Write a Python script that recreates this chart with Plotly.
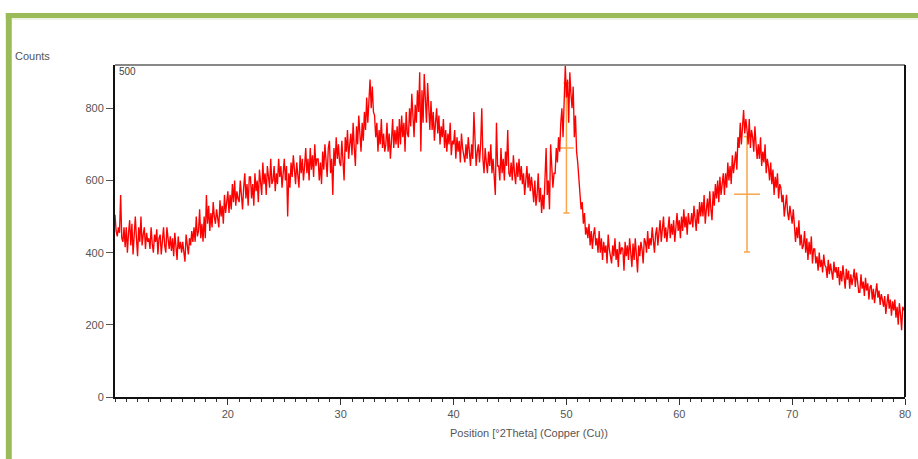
import plotly.graph_objects as go

# Diffraction scan: 2theta from 10 to 80 deg, step 0.1
two_theta_start = 10.0
two_theta_step = 0.1
counts = [
    505,460,445,470,455,560,440,430,470,415,
    470,400,455,490,420,480,395,450,500,440,
    390,470,430,500,420,450,470,410,455,430,
    440,410,470,425,400,450,430,465,395,440,
    450,395,440,470,420,400,470,430,410,445,
    405,440,390,455,420,380,445,410,430,400,
    430,400,375,450,410,395,440,420,460,430,
    470,430,500,445,460,520,440,480,430,500,
    440,560,480,530,460,510,470,540,500,480,
    520,490,470,545,500,530,480,560,510,540,
    570,510,560,520,590,540,600,530,570,550,
    540,600,560,520,580,620,550,590,530,610,
    610,550,590,530,620,570,600,540,630,580,
    560,650,590,620,560,640,600,580,660,590,
    600,640,570,620,590,660,610,640,580,630,
    660,600,640,500,620,580,650,610,670,630,
    590,650,610,580,670,620,660,600,640,690,
    620,660,600,690,630,670,610,700,640,660,
    660,600,650,590,680,630,700,650,610,690,
    710,620,660,560,690,640,720,660,700,650,
    640,710,650,600,720,680,740,660,700,730,
    670,760,690,640,750,700,780,720,680,760,
    710,790,740,830,760,820,880,800,860,790,
    780,720,760,680,740,700,770,690,730,680,
    700,760,680,730,660,710,770,690,740,700,
    750,690,770,700,780,720,760,680,790,730,
    720,800,750,840,770,720,810,760,850,790,
    900,680,850,760,895,830,760,870,800,740,
    820,740,790,710,760,800,730,780,700,750,
    720,770,690,740,680,730,700,760,670,710,
    700,740,660,720,680,710,650,730,690,670,
    650,700,660,720,680,640,700,660,790,700,
    640,680,700,650,700,800,660,620,690,650,
    620,680,640,700,620,660,600,560,760,640,
    640,600,690,620,660,600,680,640,740,620,
    610,650,600,670,620,590,650,610,660,600,
    640,590,620,560,600,640,580,620,570,610,
    580,540,600,530,560,620,540,580,510,560,
    520,640,690,560,600,520,700,640,580,620,
    620,690,650,720,680,760,800,720,860,920,
    830,880,760,900,840,800,860,720,780,680,
    650,600,560,520,540,480,510,450,470,440,
    480,420,460,410,450,470,420,440,400,460,
    400,440,380,430,400,420,370,450,410,390,
    370,420,390,440,380,410,360,430,395,415,
    410,350,430,390,420,380,440,400,360,425,
    380,440,400,345,420,390,430,410,370,440,
    430,400,460,410,440,420,470,430,400,450,
    470,420,450,490,430,460,500,440,470,430,
    460,500,440,480,450,490,430,470,510,460,
    490,440,500,460,520,470,500,450,510,480,
    480,510,470,530,490,460,520,480,540,500,
    540,500,560,480,520,550,500,570,520,490,
    570,530,590,550,600,540,610,560,590,620,
    560,620,580,650,600,640,590,670,620,660,
    680,630,720,690,760,700,750,795,730,770,
    740,700,770,690,740,720,680,750,700,660,
    700,660,720,640,680,650,700,620,660,640,
    600,650,590,630,560,610,580,620,550,590,
    580,540,560,500,530,560,510,490,530,500,
    480,520,460,430,470,440,490,420,450,410,
    420,460,400,440,380,430,395,445,370,410,
    410,370,390,350,400,360,380,345,395,365,
    360,330,380,340,370,350,325,375,345,360,
    330,360,310,350,320,365,335,300,355,325,
    350,300,340,310,330,355,305,345,320,290,
    290,340,300,320,280,330,295,315,270,305,
    310,270,300,260,290,315,275,295,255,285,
    270,250,280,230,260,285,245,270,225,265,
    240,270,220,250,200,260,230,185,250,240,
    250,
]
two_theta = [round(two_theta_start + i * two_theta_step, 1) for i in range(len(counts))]

# Peak markers (position, height, +/- spread)
peak_pos = [50.0, 66.0]
peak_height = [690, 562]
peak_err_y = [180, 160]
peak_err_x = [0.65, 1.15]

x_ticks = [20, 30, 40, 50, 60, 70, 80]
y_ticks = [0, 200, 400, 600, 800]

fig = go.Figure()
fig.add_trace(go.Scatter(
    x=peak_pos, y=peak_height, mode="markers",
    marker=dict(size=1, color="rgba(0,0,0,0)"),
    error_y=dict(type="data", array=peak_err_y, color="#F7A54A", thickness=1.5, width=3),
    error_x=dict(type="data", array=peak_err_x, color="#F7A54A", thickness=1.5, width=0),
    hoverinfo="skip", showlegend=False,
))
fig.add_trace(go.Scatter(
    x=two_theta, y=counts, mode="lines",
    line=dict(color="#FF0000", width=1.35), showlegend=False,
))

L, R, T, B = 115, 7, 65, 62
W, H = 918, 459
pw, ph = W - L - R, H - T - B

def px(x):
    return (x - L) / pw

def py(y):
    return (H - B - y) / ph

green = "#9BBB59"
shapes = [
    dict(type="rect", xref="paper", yref="paper", x0=px(5), x1=px(11), y0=py(13), y1=py(459),
         fillcolor=green, line=dict(width=0), layer="above"),
    dict(type="rect", xref="paper", yref="paper", x0=px(5), x1=px(925), y0=py(13), y1=py(18),
         fillcolor=green, line=dict(width=0), layer="above"),
    dict(type="line", xref="paper", yref="paper", x0=px(11), x1=px(925), y0=py(19), y1=py(19),
         line=dict(color="#DDE8C8", width=1)),
    dict(type="line", xref="paper", yref="paper", x0=0, x1=1, y0=1, y1=1,
         line=dict(color="#888888", width=2)),
    dict(type="line", xref="paper", yref="paper", x0=1, x1=1, y0=0, y1=1,
         line=dict(color="#111111", width=2)),
]

fig.update_layout(
    width=W, height=H,
    margin=dict(l=L, r=R, t=T, b=B),
    paper_bgcolor="white", plot_bgcolor="white",
    font=dict(family="Liberation Sans, Arial, sans-serif", size=11, color="#555555"),
    shapes=shapes,
    xaxis=dict(
        range=[10, 80], tickvals=x_ticks, ticks="outside", ticklen=6, tickwidth=1,
        tickcolor="#333333", showgrid=False, zeroline=False,
        showline=True, linecolor="#111111", linewidth=2,
        minor=dict(dtick=1, ticks="outside", ticklen=3, tickcolor="#333333", showgrid=False),
        tickfont=dict(size=11, color="#555555"),
    ),
    yaxis=dict(
        range=[0, 920], tickvals=y_ticks, ticks="outside", ticklen=7, tickwidth=1,
        tickcolor="#555555", showgrid=False, zeroline=False,
        showline=True, linecolor="#111111", linewidth=2,
        tickfont=dict(size=11, color="#555555"),
    ),
    annotations=[
        dict(text="Counts", xref="paper", yref="paper", x=px(12), y=py(56),
             xanchor="left", yanchor="middle", showarrow=False,
             font=dict(size=11, color="#555555")),
        dict(text="500", xref="paper", yref="paper", x=px(117), y=py(71),
             xanchor="left", yanchor="middle", showarrow=False,
             font=dict(size=10, color="#444444")),
        dict(text="Position [°2Theta] (Copper (Cu))", xref="paper", yref="paper",
             x=px(532), y=py(433), xanchor="center", yanchor="middle", showarrow=False,
             font=dict(size=11, color="#555555")),
    ],
)

fig.write_html("out.html")
